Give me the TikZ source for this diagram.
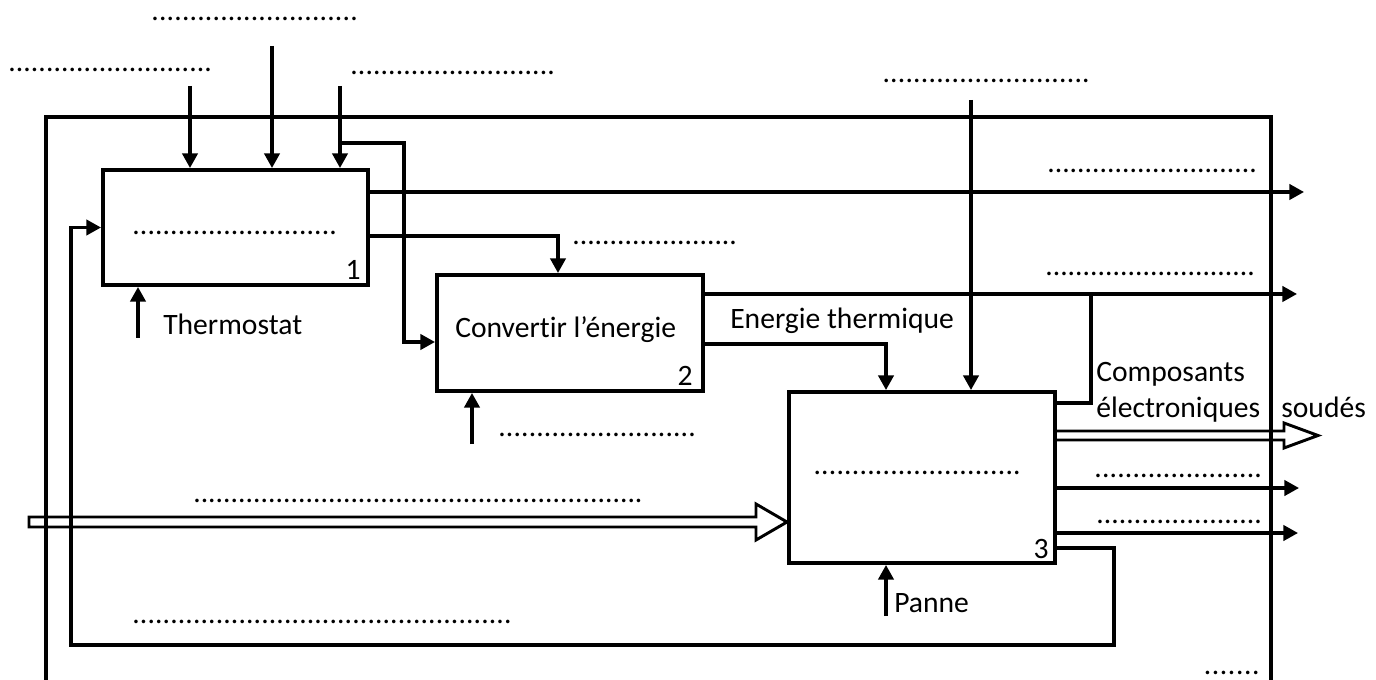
\documentclass[tikz,border=0pt]{standalone}
\usepackage{fontspec}
\setmainfont{Carlito}[Ligatures=NoCommon]
\usetikzlibrary{arrows.meta,calc}
\newcommand\dl[1]{\hbox to 0.75\dimexpr#1pt\relax{\xleaders\hbox{.}\hfill}}
\tikzset{
  box/.style={draw,line width=3pt,inner sep=0pt},
  frame/.style={line width=2.4pt,line join=miter},
  ln/.style={line width=2.4pt,line join=miter},
  arr/.style={line width=2.4pt,line join=miter,-{Triangle[length=11pt,width=11.5pt]}},
  dbl/.style={line width=2.2pt,line join=miter},
  lbl/.style={inner sep=0pt,anchor=base west},
  num/.style={inner sep=0pt,anchor=base east}
}
\begin{document}
\begin{tikzpicture}[x=0.75pt,y=-0.75pt,font=\fontsize{22.2}{26}\selectfont]
\useasboundingbox (0,0) rectangle (1376,680);
% boxes
\node[box,minimum width=198.75pt,minimum height=86.25pt] (b1) at (235.5,227.5) {};
\node[box,minimum width=199.5pt,minimum height=87pt] (b2) at (570,333) {};
\node[box,minimum width=199.5pt,minimum height=128.25pt] (b3) at (922,477.5) {};
% outer frame (open at the bottom)
\coordinate (fl) at (46,680);
\coordinate (ftr) at (1271,117);
\coordinate (fr) at (1271,680);
\draw[frame] (fl) |- (ftr) -- (fr);
% inputs to box 1
\coordinate (i1) at (190,86);
\coordinate (i2) at (272,46);
\coordinate (i3) at (340,86);
\draw[arr] (i1) -- (i1 |- b1.north);
\draw[arr] (i2) -- (i2 |- b1.north);
\draw[arr] (i3) -- (i3 |- b1.north);
\coordinate (br) at (340,143);
\coordinate (k1) at (404,143);
\coordinate (b2in) at ($(b2.west)+(0,9)$);
\draw[arr] (br) -- (k1) |- (b2in);
% box 1 outputs
\coordinate (o1) at (1304,192);
\draw[arr] (o1 -| b1.east) -- (o1);
\coordinate (c2) at (558,236);
\draw[arr] (c2 -| b1.east) -- (c2) -- (c2 |- b2.north);
% thermostat
\coordinate (th) at (138,338);
\draw[arr] (th) -- (th |- b1.south);
% box 2 outputs
\coordinate (o2) at (1297,294);
\draw[arr] (o2 -| b2.east) -- (o2);
\coordinate (j1) at (1091,294);
\draw[ln] (j1) |- (b3.east |- 0,403);
\coordinate (et) at (886,344);
\draw[arr] (et -| b2.east) -- (et) -- (et |- b3.north);
% box 2 control
\coordinate (c2b) at (472,444);
\draw[arr] (c2b) -- (c2b |- b2.south);
% box 3 top input
\coordinate (i4) at (971,100);
\draw[arr] (i4) -- (i4 |- b3.north);
% panne
\coordinate (pn) at (886,616);
\draw[arr] (pn) -- (pn |- b3.south);
% box 3 outputs
\coordinate (o3) at (1299,488);
\draw[arr] (o3 -| b3.east) -- (o3);
\coordinate (o4) at (1298,533);
\draw[arr] (o4 -| b3.east) -- (o4);
% feedback loop
\coordinate (fb1) at (1114,548);
\coordinate (fb2) at (71,645);
\draw[arr] (fb1 -| b3.east) -- (fb1) |- (fb2) |- (b1.west);
% double (hollow) arrows
\coordinate (tipIn) at (b3.west |- 0,522);
\coordinate (startIn) at (29,522);
\draw[dbl] ($(startIn)+(0,-5)$) -- ($(tipIn)+(-31,-5)$) -- ($(tipIn)+(-31,-18)$) -- (tipIn)
  -- ($(tipIn)+(-31,18)$) -- ($(tipIn)+(-31,5)$) -- ($(startIn)+(0,5)$) -- cycle;
\coordinate (outS) at (b3.east |- 0,435.5);
\coordinate (tipOut) at (1318,435.5);
\draw[dbl] ($(outS)+(0,-4.5)$) -- ($(tipOut)+(-34,-4.5)$) -- ($(tipOut)+(-34,-12.5)$) -- (tipOut)
  -- ($(tipOut)+(-34,12.5)$) -- ($(tipOut)+(-34,4.5)$) -- ($(outS)+(0,4.5)$);
% numbers
\node[num] (n1) at (361,280) {1};
\node[num] (n2) at (693,386) {2};
\node[num] (n3) at (1049,558) {3};
% texts
\node[lbl] (tth) at (163,335) {Thermostat};
\node[lbl] (tcv) at (455,338) {Convertir l’énergie};
\node[lbl] (tet) at (730,329) {Energie thermique};
\node[lbl] (tco) at (1096,382) {Composants};
\node[lbl] (tel) at (1096,417) {électroniques};
\node[lbl] (tso) at (1281,417) {soudés};
\node[lbl] (tpa) at (894,612) {Panne};
% dotted blanks
\node[lbl] (d1) at (151,21) {\dl{207}};
\node[lbl] (d2) at (8,72) {\dl{204}};
\node[lbl] (d3) at (350,75) {\dl{205}};
\node[lbl] (d4) at (132,235) {\dl{205}};
\node[lbl] (d5) at (572,245) {\dl{165}};
\node[lbl] (d6) at (1047,173) {\dl{210}};
\node[lbl] (d7) at (1045,276) {\dl{210}};
\node[lbl] (d8) at (498,436) {\dl{198}};
\node[lbl] (d9) at (882,83) {\dl{208}};
\node[lbl] (d10) at (813,474) {\dl{208}};
\node[lbl] (d11) at (193,502) {\dl{450}};
\node[lbl] (d12) at (132,623) {\dl{380}};
\node[lbl] (d13) at (1094,477) {\dl{168}};
\node[lbl] (d14) at (1096,523) {\dl{166}};
\node[lbl] (d15) at (1203,674) {\dl{57}};
\end{tikzpicture}
\end{document}
